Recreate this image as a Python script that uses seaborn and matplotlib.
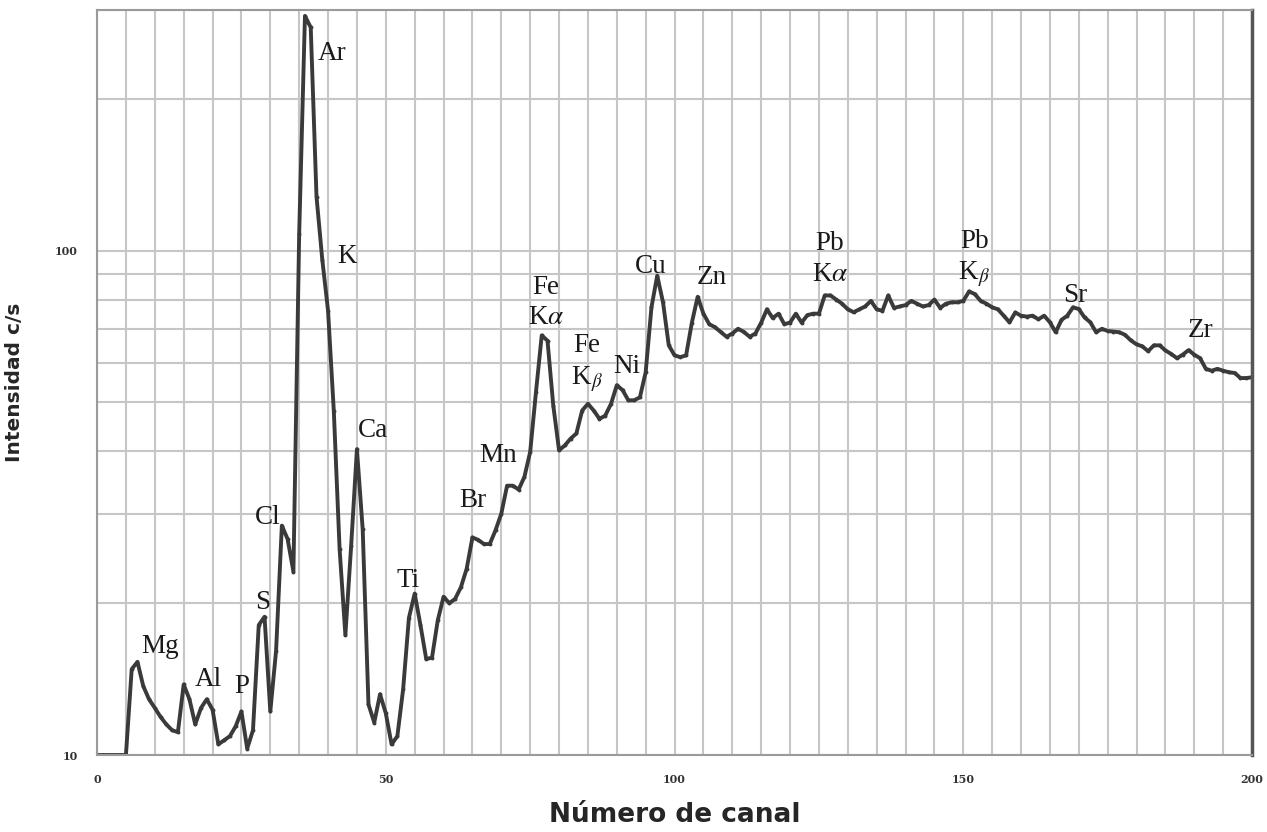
import numpy as np
import pandas as pd
import matplotlib
matplotlib.use('Agg')
import matplotlib.pyplot as plt
import seaborn as sns
from matplotlib.ticker import FixedLocator, MultipleLocator, NullFormatter

# XRF spectrum, one value per channel (0..200)
channels = np.arange(0, 201)
counts = [
    10, 10, 10, 10, 10, 10, 14.8, 15.3, 13.7, 12.9,
    12.4, 11.9, 11.5, 11.2, 11.1, 13.8, 12.9, 11.5, 12.4, 12.9,
    12.3, 10.5, 10.7, 10.9, 11.4, 12.2, 10.3, 11.2, 18.1, 18.8,
    12.2, 16.1, 28.5, 26.8, 23.1, 108, 292, 277, 128, 96,
    76, 48, 25.6, 17.3, 26, 40.4, 28, 12.6, 11.6, 13.2,
    12.1, 10.5, 10.9, 13.5, 18.7, 20.9, 18.1, 15.5, 15.6, 18.5,
    20.6, 20.0, 20.4, 21.5, 23.4, 27.0, 26.7, 26.2, 26.2, 27.9,
    30.1, 34.2, 34.2, 33.6, 35.6, 39.9, 52.4, 67.9, 66.3, 49.3,
    40.2, 41.1, 42.4, 43.4, 48.2, 49.7, 48.2, 46.4, 47.1, 49.7,
    54.1, 52.9, 50.5, 50.5, 51.2, 57.4, 77.2, 89.2, 79.0, 64.9,
    62, 61.5, 62, 72, 81, 75, 71.5, 70.5, 69, 67.5,
    68.5, 70, 69, 67.5, 68.5, 72, 76.5, 73.5, 75, 71.5,
    72, 75, 72, 74.5, 75, 75, 81.5, 81.5, 80, 78.5,
    76.5, 75.5, 76.5, 77.5, 79.5, 76.5, 76, 81.5, 77, 77.5,
    78, 79.5, 78.5, 77.5, 78, 80, 77, 78.5, 79, 79,
    79.5, 83, 82, 79.5, 78.5, 77.2, 76.5, 74.3, 72.1, 75.4,
    74.3, 74.0, 74.3, 73.1, 74.3, 72.1, 68.9, 72.9, 74.3, 77.2,
    76.6, 73.7, 72.1, 68.9, 70.0, 69.3, 69.1, 68.9, 68.1, 66.4,
    65.2, 64.6, 63.2, 64.9, 64.9, 63.4, 62.4, 61.2, 62.2, 63.5,
    62.2, 61.2, 58.3, 57.8, 58.3, 57.8, 57.4, 57.2, 55.9, 55.9,
    56.1,
]

# element labels and where they sit (channel, c/s)
labels = ['Mg', 'Al', 'P', 'S', 'Cl', 'Ar', 'K', 'Ca', 'Ti', 'Br', 'Mn',
          'Fe\nK$\\alpha$', 'Fe\nK$_\\beta$', 'Ni', 'Cu', 'Zn',
          'Pb\nK$\\alpha$', 'Pb\nK$_\\beta$', 'Sr', 'Zr']
label_x = [10.9, 19.2, 25.1, 28.6, 29.6, 40.7, 43.3, 47.8, 53.9, 65.1, 69.4,
           77.7, 84.8, 91.8, 95.8, 106.5, 126.9, 151.9, 169.4, 191.0]
label_y = [16.4, 14.1, 13.7, 20.1, 29.6, 246, 97.3, 44.0, 22.2, 32.0, 39.3,
           78.9, 59.7, 58.9, 92.9, 88.4, 96.4, 96.4, 81.5, 69.4]

df = pd.DataFrame({'Canal': channels, 'Intensidad': counts})

sns.set_style('white')
plt.rcParams['mathtext.fontset'] = 'stix'

fig = plt.figure(figsize=(12.67, 8.32), dpi=100)
ax = fig.add_axes([0.0766, 0.0925, 0.9116, 0.8955])

sns.lineplot(data=df, x='Canal', y='Intensidad', ax=ax, color='#3a3a3a',
             linewidth=2.8, marker='o', markersize=2.8, markeredgewidth=0)

ax.set_yscale('log')
ax.set_xlim(0, 200)
ax.set_ylim(10, 300)

ax.xaxis.set_major_locator(MultipleLocator(50))
ax.xaxis.set_minor_locator(MultipleLocator(5))
ax.yaxis.set_major_locator(FixedLocator([10, 100]))
ax.yaxis.set_minor_locator(FixedLocator([20, 30, 40, 50, 60, 70, 80, 90, 200, 300]))
ax.yaxis.set_major_formatter(matplotlib.ticker.FuncFormatter(lambda v, p: f'{v:.0f}'))
ax.yaxis.set_minor_formatter(NullFormatter())

ax.grid(True, which='both', color='#c6c6c6', linewidth=1.5)
ax.set_axisbelow(True)

ax.tick_params(axis='both', which='major', direction='out', length=5, width=1,
               color='#888888', labelsize=8, labelcolor='#333333', pad=9)
ax.tick_params(axis='y', which='minor', direction='out', length=3, width=1, color='#999999')
ax.tick_params(axis='x', which='minor', length=0)
for t in ax.get_xticklabels() + ax.get_yticklabels():
    t.set_fontweight('bold')
    t.set_family('DejaVu Serif')

for side in ['left', 'bottom', 'top']:
    ax.spines[side].set_color('#9a9a9a')
    ax.spines[side].set_linewidth(1.5)
ax.spines['right'].set_color('#555555')
ax.spines['right'].set_linewidth(2.5)

ax.set_xlabel('Número de canal', fontsize=19, fontweight='bold',
              family='DejaVu Sans', labelpad=12)
ax.set_ylabel('Intensidad c/s', fontsize=14.5, fontweight='bold',
              family='DejaVu Sans', labelpad=22)

for lab, lx, ly in zip(labels, label_x, label_y):
    ax.text(lx, ly, lab, ha='center', va='center', fontsize=19.5,
            family='Liberation Serif', color='#1a1a1a', linespacing=1.3)

fig.savefig('out.png', dpi=100)
